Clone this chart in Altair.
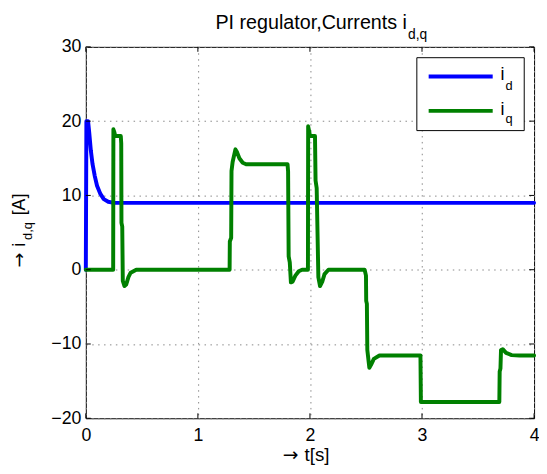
import altair as alt
import pandas as pd

# ---------------- data ----------------
x_ticks = [0, 1, 2, 3, 4]
y_ticks = [-20, -10, 0, 10, 20, 30]

t_d = [0, 0.005, 0.02, 0.03, 0.045, 0.06, 0.08, 0.10, 0.13, 0.16, 0.20, 0.25, 4.0]
i_d = [0, 20.0, 20.0, 18.5, 16.0, 14.2, 12.6, 11.3, 10.2, 9.5, 9.15, 9.0, 9.0]

t_q = [0, 0.244, 0.246, 0.255, 0.262, 0.312, 0.316, 0.318, 0.325, 0.33, 0.345,
       0.36, 0.38, 0.40, 0.45,
       1.283, 1.285, 1.297, 1.30, 1.31, 1.335, 1.35, 1.37, 1.40, 1.43,
       1.80, 1.805, 1.81, 1.82, 1.83, 1.845, 1.87, 1.90, 1.93,
       1.982, 1.984, 1.995, 2.0, 2.045, 2.05, 2.06, 2.075, 2.09, 2.11, 2.13, 2.165,
       2.488, 2.50, 2.502, 2.508, 2.512, 2.53, 2.545, 2.57, 2.62,
       2.986, 2.99, 3.69, 3.693, 3.70, 3.705, 3.72, 3.75, 3.80, 3.87, 4.0]
i_q = [0, 0, 18.9, 18.5, 18.0, 18.0, 17.0, 6.3, 5.8, -1.5, -2.2,
       -2.0, -1.0, -0.4, 0,
       0, 3.8, 4.3, 13.3, 14.5, 16.2, 15.8, 15.0, 14.4, 14.2,
       14.2, 13.2, 1.8, 1.0, -1.7, -1.6, -0.8, -0.2, 0,
       0, 19.3, 18.5, 18.0, 18.0, 12.0, 11.0, -1.0, -2.2, -1.6, -0.6, 0,
       0, -0.8, -4.2, -4.6, -10.8, -13.2, -12.8, -12.0, -11.55,
       -11.55, -17.8, -17.8, -13.7, -13.3, -10.8, -10.7, -11.2, -11.5, -11.55, -11.55]

title_main = "PI regulator,Currents i"
title_sub = "d,q"
arrow = "→"
xlabel = "t[s]"
ylabel_a = "i"
ylabel_sub = "d,q"
ylabel_b = "[A]"
legend_main = ["i", "i"]
legend_sub = ["d", "q"]

BLUE = "#0000ff"
GREEN = "#008000"
FONT = "Liberation Sans"
AFONT = "DejaVu Sans"
W, H = 455, 377

df_d = pd.DataFrame({"t": t_d, "v": i_d, "o": range(len(t_d))})
df_q = pd.DataFrame({"t": t_q, "v": i_q, "o": range(len(t_q))})

xs = alt.Scale(domain=[0, 4], nice=False, zero=False)
ys = alt.Scale(domain=[-20, 30], nice=False, zero=False)

xax = alt.Axis(values=x_ticks, title=None, grid=True, ticks=False, tickSize=0,
               domain=False, labelFontSize=18, labelPadding=9, labelFlush=False, format="d")
yax = alt.Axis(values=y_ticks, title=None, grid=True, ticks=False, tickSize=0,
               domain=False, labelFontSize=18, labelPadding=5, format="d")

line_d = alt.Chart(df_d).mark_line(color=BLUE, strokeWidth=4, strokeJoin="round", strokeCap="round").encode(
    x=alt.X("t:Q", scale=xs, axis=xax),
    y=alt.Y("v:Q", scale=ys, axis=yax),
    order="o:Q",
)
line_q = alt.Chart(df_q).mark_line(color=GREEN, strokeWidth=4, strokeJoin="round", strokeCap="round").encode(
    x=alt.X("t:Q", scale=xs),
    y=alt.Y("v:Q", scale=ys),
    order="o:Q",
)

# inward ticks (MATLAB style)
dfx = pd.DataFrame({"t": x_ticks})
dfy = pd.DataFrame({"v": y_ticks})
tick_style = dict(color="black", strokeWidth=1)
tb = alt.Chart(dfx).mark_rule(**tick_style).encode(x=alt.X("t:Q", scale=xs), y=alt.value(H), y2=alt.value(H - 5))
tt = alt.Chart(dfx).mark_rule(**tick_style).encode(x=alt.X("t:Q", scale=xs), y=alt.value(0), y2=alt.value(5))
tl = alt.Chart(dfy).mark_rule(**tick_style).encode(y=alt.Y("v:Q", scale=ys), x=alt.value(0), x2=alt.value(5))
tr = alt.Chart(dfy).mark_rule(**tick_style).encode(y=alt.Y("v:Q", scale=ys), x=alt.value(W), x2=alt.value(W - 5))

one = pd.DataFrame({"a": [0]})

def txt(s, x, y, size, align="left", angle=0, font=FONT):
    kw = dict(text=s, font=font, fontSize=size, align=align, baseline="alphabetic", color="black")
    if angle:
        kw["angle"] = angle
    return alt.Chart(one).mark_text(**kw).encode(x=alt.value(x), y=alt.value(y))

# title with subscript
t1 = txt(title_main, 326, -18, 20, align="right")
t2 = txt(title_sub, 327, -7.5, 14)

# x label
x1 = txt(arrow, 200, 420, 19, font=AFONT)
x2 = txt(xlabel, 222, 420, 19)

# y label rotated with subscript
y0 = txt(arrow, -62, 224, 18, angle=270, font=AFONT)
y1 = txt(ylabel_a, -62, 203, 18, angle=270)
y2 = txt(ylabel_sub, -55, 196, 13, angle=270)
y3 = txt(ylabel_b, -62, 171, 18, angle=270)

# legend
box = alt.Chart(one).mark_rect(fill="white", stroke="black", strokeWidth=1).encode(
    x=alt.value(336), x2=alt.value(445), y=alt.value(11), y2=alt.value(85))
ld = alt.Chart(one).mark_rule(color=BLUE, strokeWidth=4).encode(
    x=alt.value(348), x2=alt.value(413), y=alt.value(30))
lq = alt.Chart(one).mark_rule(color=GREEN, strokeWidth=4).encode(
    x=alt.value(348), x2=alt.value(413), y=alt.value(65))
ltd = txt(legend_main[0], 421, 34, 18)
lsd = txt(legend_sub[0], 426, 44, 13)
ltq = txt(legend_main[1], 421, 69, 18)
lsq = txt(legend_sub[1], 426, 77, 13)

chart = alt.layer(
    line_d, line_q, tb, tt, tl, tr, t1, t2, x1, x2, y0, y1, y2, y3,
    box, ld, lq, ltd, lsd, ltq, lsq,
).properties(
    width=W, height=H,
    padding={"left": 79, "top": 36, "right": 5, "bottom": 45},
    autosize=alt.AutoSizeParams(type="none"),
    background="white",
).configure_view(
    stroke="black", strokeWidth=1
).configure_axis(
    labelFont=FONT, labelColor="black", gridColor="#888888", gridDash=[1.5, 4.5],
    gridWidth=1,
)

chart.save("out.html", embed_options={"renderer": "svg", "actions": False})
